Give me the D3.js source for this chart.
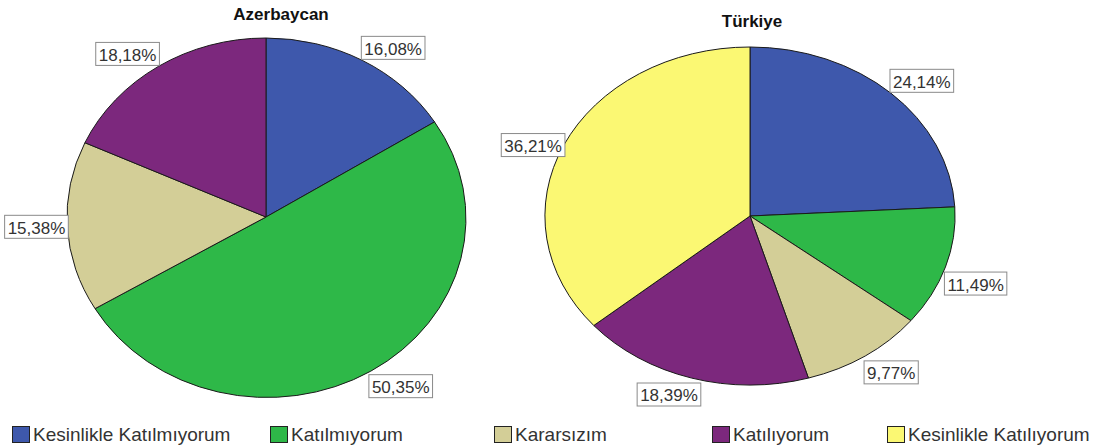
<!DOCTYPE html>
<html>
<head>
<meta charset="utf-8">
<script src="https://cdn.jsdelivr.net/npm/d3@7"></script>
<style>
  body { margin: 0; background: #fff; }
  svg { font-family: "Liberation Sans", Arial, sans-serif; }
</style>
</head>
<body>
<div id="chart"></div>
<script>
// data
const categories = ["Kesinlikle Katılmıyorum", "Katılmıyorum", "Kararsızım", "Katılıyorum", "Kesinlikle Katılıyorum"];
const colors = ["#3E58AC", "#2EB848", "#D3CE97", "#7C287D", "#FBF873"];
const azValues = [16.08, 50.35, 15.38, 18.18, 0];
const trValues = [24.14, 11.49, 9.77, 18.39, 36.21];
const titles = ["Azerbaycan", "Türkiye"];

const width = 1100, height = 445;

const svg = d3.select("#chart")
  .append("svg")
  .attr("width", width)
  .attr("height", height);

const fmt = d3.formatLocale({decimal: ",", thousands: ".", grouping: [3], currency: ["", ""]}).format(".2f");

// pie layouts (ellipses, like spss draws them)
const pies = [
  {title: titles[0], values: azValues, cx: 266, cy: 217, rx: 199, ry: 179, tx: 281, ty: 20},
  {title: titles[1], values: trValues, cx: 750, cy: 216, rx: 205, ry: 169, tx: 752, ty: 27}
];

const pie = d3.pie().sort(null).value(d => d.v);
const arc = d3.arc().innerRadius(0).outerRadius(1);

pies.forEach(p => {
  const data = p.values.map((v, i) => ({v: v, i: i})).filter(d => d.v > 0);
  const arcs = pie(data);

  svg.append("text")
    .attr("x", p.tx)
    .attr("y", p.ty)
    .attr("text-anchor", "middle")
    .attr("font-size", 17)
    .attr("font-weight", "bold")
    .attr("fill", "#111")
    .text(p.title);

  const g = svg.append("g")
    .attr("transform", `translate(${p.cx}, ${p.cy}) scale(${p.rx}, ${p.ry})`);

  g.selectAll("path")
    .data(arcs)
    .join("path")
    .attr("d", arc)
    .attr("fill", d => colors[d.data.i])
    .attr("stroke", "#1a1a1a")
    .attr("stroke-width", 1)
    .attr("vector-effect", "non-scaling-stroke");

  // labels: box sits just outside the rim at the middle angle
  const lg = svg.append("g");
  arcs.forEach(a => {
    const mid = (a.startAngle + a.endAngle) / 2;
    const s = Math.sin(mid), c = Math.cos(mid);
    const px = p.cx + p.rx * s, py = p.cy - p.ry * c;
    const lab = lg.append("g");
    const txt = lab.append("text")
      .attr("font-size", 17)
      .attr("fill", "#333")
      .attr("text-anchor", "middle")
      .attr("dy", "0.35em")
      .text(fmt(a.data.v) + "%");
    const tw = txt.node().getComputedTextLength();
    const w = tw + 6, h = 23;
    const ox = Math.abs(s) < 0.4 ? s / 0.4 * w / 2 : Math.sign(s) * (w / 2 - 1);
    let oy = 0;
    if (c > 0.45) oy = -(h / 2 + 1);
    if (c < -0.25) oy = h / 2 + 5;
    const lx = px + ox, ly = py + oy;
    lab.insert("rect", "text")
      .attr("x", lx - w / 2)
      .attr("y", ly - h / 2)
      .attr("width", w)
      .attr("height", h)
      .attr("fill", "#fff")
      .attr("stroke", "#8a8a8a")
      .attr("stroke-width", 1);
    txt.attr("x", lx).attr("y", ly + 1);
  });
});

// legend
const legendX = [12, 270, 494, 712, 887];
const leg = svg.append("g").selectAll("g")
  .data(categories)
  .join("g")
  .attr("transform", (d, i) => `translate(${legendX[i]}, 426)`);

leg.append("rect")
  .attr("x", 0.5)
  .attr("y", 0.5)
  .attr("width", 17)
  .attr("height", 16)
  .attr("fill", (d, i) => colors[i])
  .attr("stroke", "#222")
  .attr("stroke-width", 1);

leg.append("text")
  .attr("x", 21)
  .attr("y", 15)
  .attr("font-size", 19)
  .attr("fill", "#333")
  .text(d => d);
</script>
</body>
</html>
